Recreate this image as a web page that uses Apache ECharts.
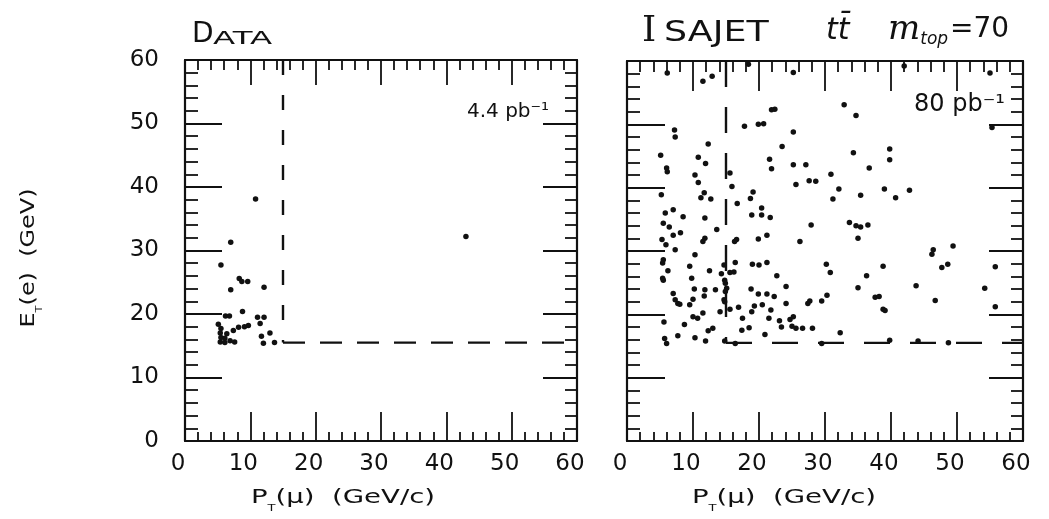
<!DOCTYPE html>
<html>
<head>
<meta charset="utf-8">
<script src="https://cdn.jsdelivr.net/npm/echarts@6/dist/echarts.min.js"></script>
<style>
html,body{margin:0;padding:0;background:#fff;}
#chart{width:1049px;height:519px;}
</style>
</head>
<body>
<div id="chart"></div>
<script>
// ---- data ----
var xTicks = [0, 10, 20, 30, 40, 50, 60];
var yTicks = [0, 10, 20, 30, 40, 50, 60];
var ptCut = 15;     // P_T(mu) cut as drawn, GeV/c
var etCut = 15.5;   // E_T(e) cut as drawn, GeV
var dataEvents = [
  [10.8,38.1],[7.0,31.3],[5.5,27.7],[8.3,25.6],[8.7,25.1],[9.6,25.1],[7.0,23.8],[12.1,24.2],
  [8.8,20.4],[6.2,19.7],[6.8,19.7],[11.1,19.5],[12.1,19.5],[11.5,18.5],[5.1,18.4],[5.5,17.7],
  [5.4,17.0],[5.5,16.3],[5.4,15.6],[6.1,15.5],[6.9,15.8],[7.6,15.6],[6.4,16.9],[7.4,17.4],
  [8.2,17.9],[9.1,18.0],[9.7,18.2],[6.1,16.2],[11.7,16.5],[13.0,17.0],[12.0,15.4],[13.7,15.5],
  [43.0,32.2]
];
var isajetEvents = [
  [6.1,58.1],[11.5,56.8],[12.9,57.6],[18.4,59.5],[25.2,58.2],[21.9,52.3],[22.4,52.4],[17.8,49.7],
  [19.9,50.0],[20.7,50.1],[7.2,49.1],[7.3,48.0],[25.2,48.8],[12.3,46.9],[23.5,46.5],[5.1,45.1],
  [10.8,44.8],[11.9,43.8],[21.6,44.5],[21.9,43.0],[25.2,43.6],[27.1,43.6],[6.0,43.1],[6.1,42.5],
  [10.3,42.0],[15.6,42.3],[10.8,40.8],[25.6,40.5],[27.6,41.1],[28.6,41.0],[5.2,38.9],[11.7,39.2],
  [11.2,38.4],[12.7,38.2],[15.9,40.2],[19.1,39.3],[18.7,38.3],[16.7,37.5],
  [42.0,59.2],[55.0,58.1],[32.9,53.1],[34.7,51.4],[55.3,49.5],[34.3,45.5],[39.8,46.1],[39.8,44.4],
  [36.7,43.1],[30.9,42.1],[32.1,39.8],[31.2,38.2],[35.4,38.8],[39.0,39.8],[40.7,38.4],[42.8,39.6],
  [5.8,36.0],[7.0,36.5],[8.5,35.4],[11.8,35.2],[18.9,35.7],[20.4,35.7],[21.7,35.3],[20.4,36.8],
  [5.5,34.4],[6.4,33.8],[27.9,34.1],[7.0,32.5],[8.1,32.9],[13.6,33.4],[5.3,31.8],[5.9,31.0],
  [7.3,30.2],[11.8,32.0],[11.5,31.5],[16.6,31.8],[16.3,31.5],[19.9,31.9],[21.2,32.5],[26.2,31.5],
  [10.3,29.4],[5.5,28.6],[5.4,28.1],[9.5,27.6],[14.7,27.8],[16.4,28.2],[19.0,27.9],[20.0,27.8],
  [21.2,28.2],[6.2,26.9],[12.5,26.9],[14.3,26.4],[15.6,26.6],[16.2,26.7],[5.4,25.7],[5.5,25.4],
  [9.8,25.7],[22.7,26.1],[14.8,25.4],[14.9,24.9],[15.1,24.1],[14.9,23.6],[24.1,24.4],[10.2,24.0],
  [11.8,23.9],[13.4,23.9],[18.8,24.0],[7.0,23.3],[11.7,22.9],[19.9,23.2],[21.2,23.2],[22.3,22.8],
  [14.7,22.3],[14.8,22.0],[7.3,22.3],[7.7,21.7],[8.0,21.6],[10.0,22.4],[9.5,21.5],[19.3,21.3],
  [20.5,21.5],[24.1,21.7],[27.4,21.7],[27.7,22.1],[29.5,22.1],[14.1,20.4],[15.6,20.8],[16.9,21.1],
  [11.5,20.2],[18.9,20.4],[21.8,20.7],[10.0,19.6],[10.7,19.4],[17.5,19.4],[21.5,19.4],[5.6,18.8],
  [8.7,18.4],[23.1,19.0],[24.7,19.2],[25.2,19.6],[23.4,18.0],[25.0,18.1],[25.6,17.8],[26.6,17.8],
  [28.1,17.8],[13.0,17.8],[12.3,17.4],[17.4,17.5],[18.5,17.9],[7.7,16.6],[10.3,16.3],[11.9,15.8],
  [20.9,16.8],[5.7,16.2],[6.0,15.4],[14.8,15.8],[16.4,15.4],[29.5,15.4],
  [33.7,34.5],[34.7,34.0],[35.4,33.8],[36.5,34.1],[35.0,32.0],[49.4,30.8],[46.4,30.2],[46.2,29.5],
  [30.2,27.9],[30.8,26.6],[38.8,27.6],[36.3,26.1],[48.6,27.9],[47.7,27.4],[55.8,27.5],[35.0,24.2],
  [43.8,24.5],[54.2,24.1],[30.3,23.0],[37.6,22.7],[38.2,22.8],[38.8,20.8],[39.1,20.6],[46.7,22.2],
  [55.8,21.2],[32.3,17.1],[39.8,15.9],[44.1,15.8],[48.7,15.5]
];

// ---- chart ----
var FONT = 'DejaVu Sans';
var ink = '#111';
var xMin = xTicks[0], xMax = xTicks[xTicks.length - 1];
var yMin = yTicks[0], yMax = yTicks[yTicks.length - 1];
var step = xTicks[1] - xTicks[0];

function xAx(grid, pos, showLabel, majorLen, minorLen) {
  return {
    type: 'value', gridIndex: grid, position: pos, min: xMin, max: xMax, interval: step,
    axisLine: {show: true, onZero: false, lineStyle: {color: ink, width: 2.2}},
    axisTick: {show: true, inside: true, length: majorLen, lineStyle: {color: ink, width: 1.8}},
    minorTick: {show: true, splitNumber: 5, length: minorLen, lineStyle: {color: ink, width: 1.8}},
    splitLine: {show: false},
    axisLabel: {show: showLabel, fontFamily: FONT, fontSize: 23, color: ink, margin: 12, padding: [0, 14, 0, 0]}
  };
}
function yAx(grid, pos, showLabel, majorLen, minorLen) {
  return {
    type: 'value', gridIndex: grid, position: pos, min: yMin, max: yMax, interval: step,
    axisLine: {show: true, onZero: false, lineStyle: {color: ink, width: 2.2}},
    axisTick: {show: true, inside: true, length: majorLen, lineStyle: {color: ink, width: 1.8}},
    minorTick: {show: true, splitNumber: 5, length: minorLen, lineStyle: {color: ink, width: 1.8}},
    splitLine: {show: false},
    axisLabel: {show: showLabel, fontFamily: FONT, fontSize: 23, color: ink, margin: 26}
  };
}

function cutSeries(xi, yi, vDash, hDash) {
  return [
    {type: 'line', xAxisIndex: xi, yAxisIndex: yi, data: [[ptCut, yMax], [ptCut, etCut]],
     symbol: 'none', silent: true, z: 1,
     lineStyle: {color: ink, width: 2.4, type: vDash}},
    {type: 'line', xAxisIndex: xi, yAxisIndex: yi, data: [[ptCut, etCut], [xMax, etCut]],
     symbol: 'none', silent: true, z: 1,
     lineStyle: {color: ink, width: 2.4, type: hDash}}
  ];
}

var subRich = {
  b: {fontFamily: FONT, fontSize: 19, lineHeight: 30, verticalAlign: 'middle', fill: ink},
  t: {fontFamily: FONT, fontSize: 9, lineHeight: 12, verticalAlign: 'bottom', fill: ink}
};
function nameText(x, y, txt, rot, sx) {
  return {type: 'text', x: x, y: y, rotation: rot || 0, scaleX: sx || 1.45,
    style: {text: txt, rich: subRich, fill: ink, align: 'center', verticalAlign: 'middle'}};
}
function txt(x, y, s, font, sx) {
  return {type: 'text', x: x, y: y, scaleX: sx || 1,
    style: {text: s, font: font, fill: ink, align: 'left', verticalAlign: 'middle'}};
}

var chart = echarts.init(document.getElementById('chart'), null, {renderer: 'canvas'});
var option = {
  backgroundColor: '#fff',
  animation: false,
  grid: [
    {left: 185, top: 60, width: 392, height: 381},
    {left: 627, top: 61, width: 396, height: 380}
  ],
  xAxis: [
    xAx(0, 'bottom', true, 29, 9),
    xAx(0, 'top', false, 25, 10),
    xAx(1, 'bottom', true, 29, 9),
    xAx(1, 'top', false, 30, 11)
  ],
  yAxis: [
    yAx(0, 'left', true, 37, 13),
    yAx(0, 'right', false, 34, 12),
    yAx(1, 'left', false, 38, 13),
    yAx(1, 'right', false, 34, 12)
  ],
  series: [].concat(
    cutSeries(0, 0, [15, 20], [22, 15]),
    cutSeries(2, 2, [26, 20], [26, 20]),
    [
      {type: 'scatter', xAxisIndex: 0, yAxisIndex: 0, data: dataEvents,
       symbol: 'circle', symbolSize: 5.5, itemStyle: {color: ink, opacity: 1}, z: 3},
      {type: 'scatter', xAxisIndex: 2, yAxisIndex: 2, data: isajetEvents,
       symbol: 'circle', symbolSize: 5.5, itemStyle: {color: ink, opacity: 1}, z: 3}
    ]
  ),
  graphic: [
    txt(192, 35, 'D', '28px "DejaVu Sans"'),
    txt(213, 39, 'ATA', '18px "DejaVu Sans"', 1.8),
    txt(642, 32, 'I', '36px "DejaVu Serif"'),
    txt(664, 34, 'SAJET', '28px "DejaVu Sans"', 1.3),
    txt(826, 31, 'tt\u0304', 'italic 30px "DejaVu Sans"'),
    {type: 'text', x: 888, y: 30, style: {
      text: '{m|m}{s|top}{n|=70}', fill: ink, align: 'left', verticalAlign: 'middle',
      rich: {
        m: {font: 'italic 34px "DejaVu Serif"', fill: ink, lineHeight: 36, verticalAlign: 'middle'},
        s: {font: 'italic 17px "DejaVu Sans"', fill: ink, lineHeight: 22, verticalAlign: 'bottom', padding: [0, 2, 0, 0]},
        n: {font: '28px "DejaVu Sans"', fill: ink, lineHeight: 36, verticalAlign: 'middle'}
      }}},
    txt(467, 112, '4.4 pb\u207b\u00b9', '20px "DejaVu Sans"'),
    txt(914, 105, '80 pb\u207b\u00b9', '24px "DejaVu Sans"'),
    nameText(343, 498, '{b|P}{t|T}{b|(\u03bc)  (GeV/c)}'),
    nameText(784, 498, '{b|P}{t|T}{b|(\u03bc)  (GeV/c)}'),
    nameText(29, 258, '{b|E}{t|T}{b|(e)  (GeV)}', Math.PI / 2, 1.26)
  ]
};
chart.setOption(option);
</script>
</body>
</html>
